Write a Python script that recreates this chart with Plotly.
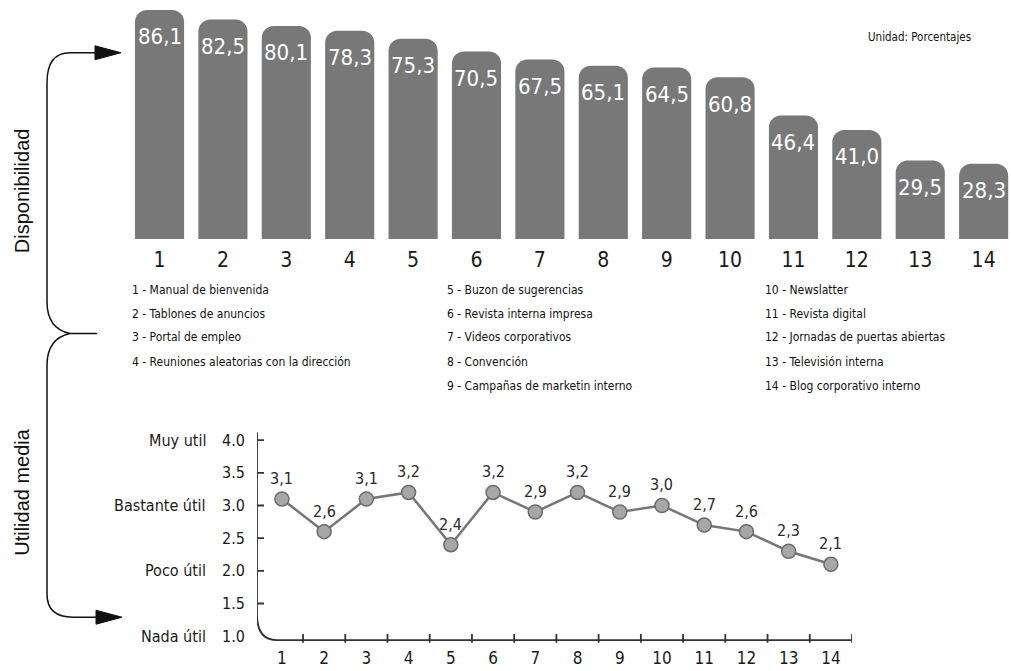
import plotly.graph_objects as go

W, H = 1011, 671

# ---------------- data ----------------
categories = list(range(1, 15))
cat_labels = [str(c) for c in categories]
availability = [86.1, 82.5, 80.1, 78.3, 75.3, 70.5, 67.5, 65.1, 64.5, 60.8, 46.4, 41.0, 29.5, 28.3]
usefulness = [3.1, 2.6, 3.1, 3.2, 2.4, 3.2, 2.9, 3.2, 2.9, 3.0, 2.7, 2.6, 2.3, 2.1]
names = [
    "Manual de bienvenida", "Tablones de anuncios", "Portal de empleo",
    "Reuniones aleatorias con la dirección", "Buzon de sugerencias",
    "Revista interna impresa", "Videos corporativos", "Convención",
    "Campañas de marketin interno", "Newslatter", "Revista digital",
    "Jornadas de puertas abiertas", "Televisión interna", "Blog corporativo interno",
]
legend_columns = [[1, 2, 3, 4], [5, 6, 7, 8, 9], [10, 11, 12, 13, 14]]
y2_ticks = [1.0, 1.5, 2.0, 2.5, 3.0, 3.5, 4.0]
y2_ticktext = ["1.0", "1.5", "2.0", "2.5", "3.0", "3.5", "4.0"]
scale_words = {4.0: "Muy util", 3.0: "Bastante útil", 2.0: "Poco útil", 1.0: "Nada útil"}

def fmt(v):
    return f"{v:.1f}".replace(".", ",")

NARROW = '"Liberation Sans Narrow", "Arial Narrow", "DejaVu Sans Condensed", sans-serif'
REG = '"Liberation Sans", Arial, sans-serif'
BAR_COLOR = "#787878"

def px(x, y):
    return f"{x / W:.5f},{1 - y / H:.5f}"

fig = go.Figure()

fig.add_trace(go.Bar(
    x=categories, y=availability, width=0.775,
    marker=dict(color=BAR_COLOR, line=dict(width=0)),
    xaxis="x", yaxis="y", hoverinfo="skip", showlegend=False,
))

fig.add_trace(go.Scatter(
    x=categories, y=usefulness, mode="lines+markers",
    line=dict(color="#767676", width=2.5),
    marker=dict(size=14, color="#a7a7aa", line=dict(color="#6c6c6c", width=1.5)),
    xaxis="x2", yaxis="y2", hoverinfo="skip", showlegend=False, cliponaxis=False,
))

annotations = []
# bar value labels
for c, v in zip(categories, availability):
    annotations.append(dict(
        x=c, y=v, xref="x", yref="y", text=fmt(v), showarrow=False,
        yanchor="middle", yshift=-27,
        font=dict(family=NARROW, size=22, color="white"),
    ))

# point labels
for c, v in zip(categories, usefulness):
    annotations.append(dict(
        x=c, y=v, xref="x2", yref="y2", text=fmt(v), showarrow=False,
        yanchor="bottom", yshift=9,
        font=dict(family=NARROW, size=16, color="#2a2a2a"),
    ))

# legend list
col_x = [130, 445, 763]
row_y = [291, 315, 339, 364, 388]
for cx, col in zip(col_x, legend_columns):
    for r, c in enumerate(col):
        annotations.append(dict(
            x=cx / W, y=1 - row_y[r] / H, xref="paper", yref="paper",
            xanchor="left", yanchor="middle", showarrow=False,
            text=f"{c} - {names[c - 1]}",
            font=dict(family=NARROW, size=12, color="#111111"),
        ))

annotations.append(dict(
    x=973 / W, y=1 - 37 / H, xref="paper", yref="paper", xanchor="right",
    yanchor="middle", showarrow=False, text="Unidad: Porcentajes",
    font=dict(family=NARROW, size=11.5, color="#111111"),
))

# scale words
for v, w in scale_words.items():
    annotations.append(dict(
        x=208 / W, y=v, xref="paper", yref="y2", xanchor="right", yanchor="middle",
        showarrow=False, text=w, font=dict(family=NARROW, size=16, color="#1a1a1a"),
    ))

# rotated side labels
annotations.append(dict(
    x=22 / W, y=1 - 192 / H, xref="paper", yref="paper", text="Disponibilidad",
    textangle=-90, showarrow=False, xanchor="center", yanchor="middle",
    font=dict(family=REG, size=20, color="#111111"),
))
annotations.append(dict(
    x=22 / W, y=1 - 494 / H, xref="paper", yref="paper", text="Utilidad media",
    textangle=-90, showarrow=False, xanchor="center", yanchor="middle",
    font=dict(family=REG, size=20, color="#111111"),
))

shapes = []
LINE = dict(color="#111111", width=1.5)
# brace
brace = (f"M {px(97,53)} L {px(70,53)} Q {px(47,53)} {px(47,83)} "
         f"L {px(47,303)} Q {px(47,330)} {px(70,335)} Q {px(47,340)} {px(47,367)} "
         f"L {px(47,597)} Q {px(47,620)} {px(73,620)} L {px(98,620)}")
shapes.append(dict(type="path", path=brace, xref="paper", yref="paper", line=LINE))
shapes.append(dict(type="path", path=f"M {px(70,335)} L {px(97,335)}",
                   xref="paper", yref="paper", line=LINE))
# arrowheads
for (tx, ty) in [(121, 53), (122, 620)]:
    tri = f"M {px(tx,ty)} L {px(tx-26,ty-7)} L {px(tx-26,ty+7)} Z"
    shapes.append(dict(type="path", path=tri, xref="paper", yref="paper",
                       fillcolor="#111111", line=dict(color="#111111", width=1)))

# bottom chart axes with rounded corner
AX = dict(color="#333333", width=1.8)
axis_path = "M 0.41,4.12 L 0.41,1.33 Q 0.41,0.94 0.88,0.94 L 14.5,0.94"
shapes.append(dict(type="path", path=axis_path, xref="x2", yref="y2", line=AX))
for v in y2_ticks[1:]:
    shapes.append(dict(type="line", xref="x2", yref="y2", xsizemode="pixel", xanchor=0.41,
                       x0=-7, x1=7, y0=v, y1=v, line=AX))
for c in categories:
    shapes.append(dict(type="line", xref="x2", yref="y2", ysizemode="pixel", yanchor=0.94,
                       y0=-6, y1=6, x0=c + 0.5, x1=c + 0.5, line=AX))

fig.update_layout(
    width=W, height=H, autosize=False,
    margin=dict(l=0, r=0, t=0, b=0),
    paper_bgcolor="white", plot_bgcolor="white",
    barcornerradius=12,
    xaxis=dict(domain=[131 / W, 1009 / W], range=[0.55, 14.4], tickvals=categories,
               ticktext=cat_labels, showgrid=False, zeroline=False, showline=False,
               ticks="", tickfont=dict(family=NARROW, size=21, color="#1a1a1a"),
               ticklabelstandoff=6, anchor="y"),
    yaxis=dict(domain=[1 - 240 / H, 1.0], range=[0, 89.85], visible=False, anchor="x"),
    xaxis2=dict(domain=[257 / W, 852 / W], range=[0.41, 14.5], tickvals=categories,
                ticktext=cat_labels, showgrid=False, zeroline=False, showline=False,
                ticks="", tickfont=dict(family=NARROW, size=17, color="#1a1a1a"),
                ticklabelstandoff=3, anchor="y2"),
    yaxis2=dict(domain=[1 - 645.6 / H, 1 - 429 / H], range=[0.9, 4.2], tickvals=y2_ticks,
                ticktext=y2_ticktext, showgrid=False, zeroline=False, showline=False,
                ticks="", tickfont=dict(family=NARROW, size=16, color="#1a1a1a"),
                ticklabelstandoff=11, anchor="x2"),
    annotations=annotations,
    shapes=shapes,
)

fig.write_html("out.html")
